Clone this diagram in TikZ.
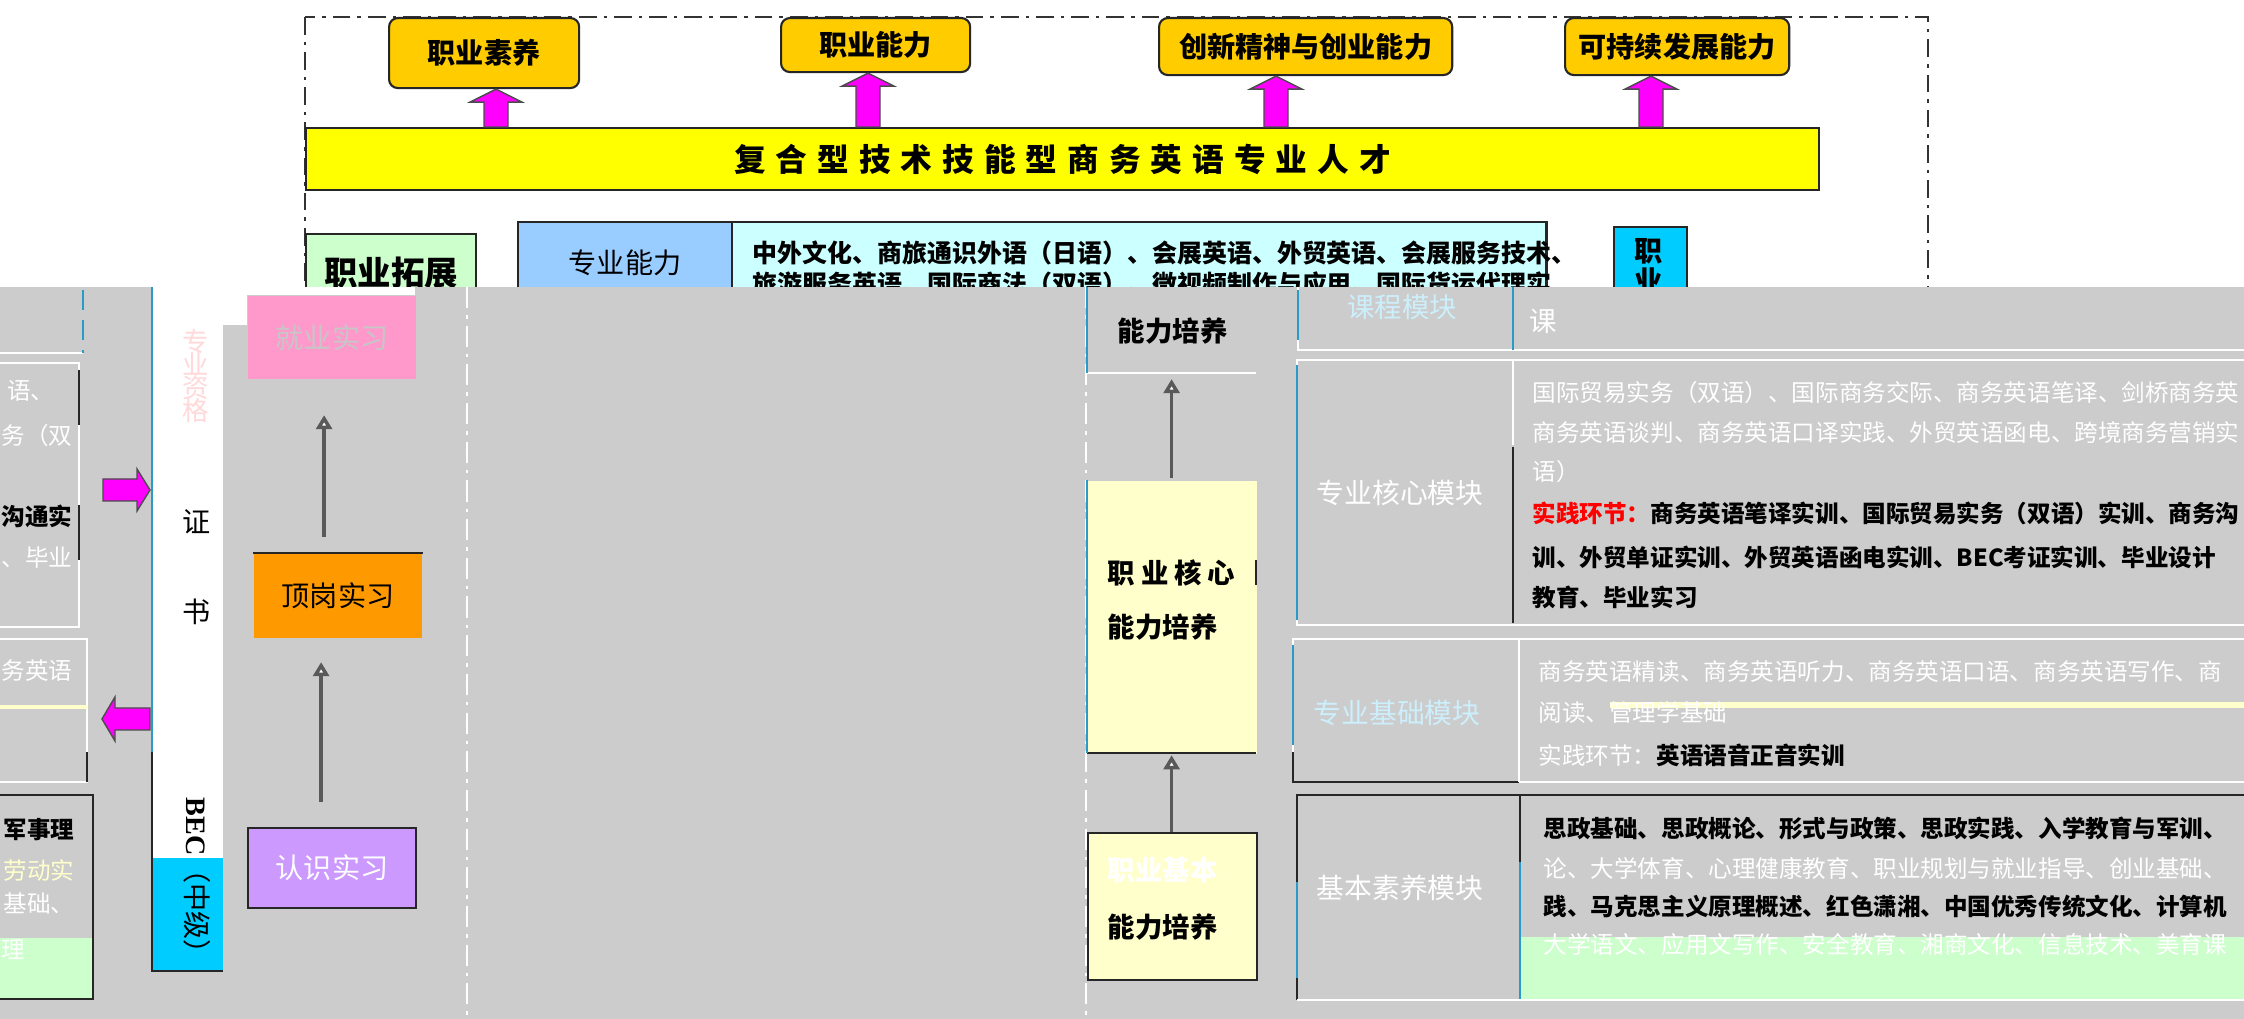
\documentclass[tikz,border=0pt]{standalone}
\usepackage{fontspec}
\setmainfont{Noto Sans CJK SC}
\newfontfamily\enserif{Liberation Serif}
\usetikzlibrary{calc,arrows.meta}
\definecolor{cgold}{HTML}{FFCC00}
\definecolor{cmag}{HTML}{FF00FF}
\definecolor{cyel}{HTML}{FFFF00}
\definecolor{cgreen}{HTML}{CCFFCC}
\definecolor{cblue}{HTML}{99CCFF}
\definecolor{clcyan}{HTML}{CCFFFF}
\definecolor{ccyan}{HTML}{00CCFF}
\definecolor{cgray}{HTML}{CCCCCC}
\definecolor{cpink}{HTML}{FF99CC}
\definecolor{corange}{HTML}{FF9900}
\definecolor{cpurple}{HTML}{CC99FF}
\definecolor{clyel}{HTML}{FFFFCC}
\definecolor{cdash}{HTML}{333333}
\newcommand\fs[1]{\fontsize{#1}{#1}\selectfont}
\tikzset{
 bx/.style={draw=black!85, line width=0.6pt, inner sep=0pt, anchor=north west},
 tgt/.style={bx, fill=cgold, rounded corners=2.5pt, font=\fs{8}\bfseries},
 marr/.style={fill=cmag, draw=black!70, line width=0.4pt},
 lbl/.style={inner sep=0pt, font=\fs{6.7}},
 ln/.style={lbl, anchor=west},
 lnb/.style={lbl, anchor=west, font=\fs{6.7}\bfseries},
 wln/.style={draw=white, line width=0.7pt},
 kln/.style={draw=black!85, line width=0.8pt},
 cln/.style={draw=cyan!80!black, line width=0.6pt},
 wdd/.style={draw=white, line width=0.6pt, dash pattern=on 6pt off 2pt on 1pt off 2pt},
 frm/.style={draw=cdash, line width=0.5pt, dash pattern=on 5pt off 2pt on 1pt off 2pt},
 garr/.style={draw=gray!70!black, line width=1pt, -{Triangle[fill=white, length=4pt, width=4.5pt]}},
}
\newcommand\blkup[4]{%
 \path (#1,0 |- #2.north) coordinate (#4b) (#1,0 |- #3.south) coordinate (#4t);
 \filldraw[marr] ($(#4b)+(-12,0)$) -- ($(#4t)+(-12,13)$) -- ($(#4t)+(-26,13)$) -- (#4t)
   -- ($(#4t)+(26,13)$) -- ($(#4t)+(12,13)$) -- ($(#4b)+(12,0)$) -- cycle;}
\begin{document}
\begin{tikzpicture}[x=0.01cm,y=-0.01cm]
\useasboundingbox (0,0) rectangle (2244,1019);
\fill[white] (0,0) rectangle (2244,1019);
% ---------- top part ----------
\draw[frm] (305,17) rectangle (1928,1019);
\node[tgt, minimum width=1.90cm, minimum height=0.70cm] (t1) at (388,17) {职业素养};
\node[tgt, minimum width=1.89cm, minimum height=0.54cm] (t2) at (780,17) {职业能力};
\node[tgt, minimum width=2.93cm, minimum height=0.57cm] (t3) at (1158,17) {创新精神与创业能力};
\node[tgt, minimum width=2.24cm, minimum height=0.57cm] (t4) at (1564,17) {可持续发展能力};
\node[bx, fill=cyel, minimum width=15.12cm, minimum height=0.62cm, font=\fs{9}\bfseries] (ban) at (305,127)
 {复\hskip0.1cm 合\hskip0.1cm 型\hskip0.1cm 技\hskip0.1cm 术\hskip0.1cm 技\hskip0.1cm 能\hskip0.1cm 型\hskip0.1cm 商\hskip0.1cm 务\hskip0.1cm 英\hskip0.1cm 语\hskip0.1cm 专\hskip0.1cm 业\hskip0.1cm 人\hskip0.1cm 才};
\blkup{496}{ban}{t1}{ua}
\blkup{868}{ban}{t2}{ub}
\blkup{1276}{ban}{t3}{uc}
\blkup{1651}{ban}{t4}{ud}
\node[bx, fill=cgreen, minimum width=1.70cm, minimum height=0.78cm, font=\fs{9.5}\bfseries] (zt) at (305,233) {职业拓展};
\node[bx, fill=cblue, minimum width=2.14cm, minimum height=0.82cm, font=\fs{8}] (zn) at (517,221) {专业能力};
\node[bx, fill=clcyan, minimum width=8.14cm, minimum height=1.0cm] (zc) at (731,221) {};
\node[lnb, font=\fs{7.1}\bfseries] (zc1) at (752,253) {中外文化、商旅通识外语（日语）、会展英语、外贸英语、会展服务技术、};
\node[lnb, font=\fs{7.1}\bfseries] (zc2) at (752,284) {旅游服务英语、国际商法（双语）、微视频制作与应用、国际货运代理实};
\node[bx, fill=ccyan, minimum width=0.73cm, minimum height=1.0cm] (zy) at (1613,226) {};
\node[lbl, font=\fs{8}\bfseries] (zy1) at (1649,251) {职};
\node[lbl, font=\fs{8}\bfseries] (zy2) at (1649,280) {业};
% ---------- grey glitch area ----------
\fill[cgray] (0,287) rectangle (2244,1019);
\fill[white] (152,287) rectangle (223,858);
\fill[white] (223,287) rectangle (247,325);
\fill[white] (247,287) rectangle (415,295);
\fill[ccyan] (152,858) rectangle (223,971);
\draw[cln] (152,287) -- (152,752);
\draw[kln] (152,752) -- (152,971) -- (223,971);
\draw[wdd] (467,287) -- (467,1019);
\draw[wdd] (1086,287) -- (1086,1019);
% left fragments
\draw[wln] (0,353) -- (83,353);
\draw[cln, dash pattern=on 0.2cm off 0.1cm] (83,290) -- (83,353);
\draw[wln] (-5,363) rectangle (79,627);
\draw[kln] (79,370) -- (79,425) (79,505) -- (79,560);
\node[lbl, anchor=east, text=white] (l2a) at (55,391) {语、};
\node[ln, text=white] (l2b) at (1,436) {务（双};
\node[lnb] (l2c) at (1,516) {沟通实};
\node[ln, text=white] (l2d) at (1,558) {、毕业};
\draw[wln] (-5,639) rectangle (87,782);
\draw[kln] (87,752) -- (87,782);
\node[ln, text=white] (l3a) at (1,671) {务英语};
\draw[draw=clyel, line width=1.2pt] (0,707) -- (87,707);
\fill[cgreen] (0,938) rectangle (93,999);
\draw[kln] (-5,795) rectangle (93,999);
\node[lnb] (l4a) at (3,830) {军事理};
\node[ln, text=clyel] (l4b) at (3,870) {劳动实};
\node[ln, text=white] (l4c) at (3,903) {基础、};
\node[ln, text=white] (l4d) at (1,950) {理};
% magenta side arrows
\coordinate (pa1) at (103,490); \coordinate (pa2) at (150,490);
\filldraw[marr] ($(pa1)+(0,-11)$) -- ($(pa2)+(-13,-11)$) -- ($(pa2)+(-13,-21)$) -- (pa2)
  -- ($(pa2)+(-13,21)$) -- ($(pa2)+(-13,11)$) -- ($(pa1)+(0,11)$) -- cycle;
\coordinate (pb1) at (150,719); \coordinate (pb2) at (102,719);
\filldraw[marr] ($(pb1)+(0,-11)$) -- ($(pb2)+(13,-11)$) -- ($(pb2)+(13,-22)$) -- (pb2)
  -- ($(pb2)+(13,22)$) -- ($(pb2)+(13,11)$) -- ($(pb1)+(0,11)$) -- cycle;
% white column text
\node[lbl, font=\fs{7.5}, text=pink!60, align=center] (bc1) at (196,376) {专\\[-1pt]业\\[-1pt]资\\[-1pt]格};
\node[lbl, font=\fs{8}, text=black] (bc2) at (197,522) {证};
\node[lbl, font=\fs{8}, text=black] (bc3) at (197,612) {书};
\node[lbl, font=\fs{8}, rotate=-90, anchor=west] (bc4) at (197,797) {{\enserif\bfseries BEC}（中级）};
% practice chain
\node[bx, draw=none, fill=cpink, minimum width=1.68cm, minimum height=0.83cm, font=\fs{8}, text=gray!45] (jy) at (247,295) {就业实习};
\node[bx, draw=none, fill=corange, minimum width=1.68cm, minimum height=0.84cm, font=\fs{8}] (dg) at (253,553) {顶岗实习};
\draw[kln] (dg.north west) -- (dg.north east);
\node[bx, fill=cpurple, minimum width=1.68cm, minimum height=0.80cm, font=\fs{8}, text=white] (rs) at (247,827) {认识实习};
\draw[garr] ($(rs.north)+(-11,-25)$) -- ($(dg.south)+(-17,23)$);
\draw[garr] ($(dg.north)+(-14,-16)$) -- ($(jy.south)+(-8,35)$);
% ability column
\node[bx, draw=none, minimum width=1.69cm, minimum height=0.86cm, font=\fs{7.8}\bfseries] (nl) at (1087,287) {能力培养};
\draw[wln] (1087,373) -- (1256,373);
\draw[cln] (1087,287) -- (1087,373);
\node[bx, draw=none, fill=clyel, minimum width=1.69cm, minimum height=2.73cm] (hx) at (1087,480) {};
\draw[kln] (1087,753) -- (1256,753) (1256,560) -- (1256,585);
\draw[cln] (1087,480) -- (1087,753);
\node[ln, font=\fs{7.8}\bfseries] (hx1) at (1107,573) {职\hskip0.06cm 业\hskip0.06cm 核\hskip0.06cm 心};
\node[ln, font=\fs{7.8}\bfseries] (hx2) at (1107,627) {能力培养};
\node[bx, fill=clyel, minimum width=1.69cm, minimum height=1.47cm] (jb) at (1087,832) {};
\node[ln, font=\fs{7.8}\bfseries, text=white] (jb1) at (1107,870) {职业基本};
\node[ln, font=\fs{7.8}\bfseries] (jb2) at (1107,927) {能力培养};
\draw[garr] ($(hx.north)+(-1,-2)$) -- ($(nl.south)+(-1,4)$);
\draw[garr] ($(jb.north)+(-1,0)$) -- ($(hx.south)+(-1,0)$);
% table header
\draw[wln] (1298,287) -- (1298,350) -- (2260,350);
\draw[cln] (1513,287) -- (1513,350) (1298,290) -- (1298,340);
\node[lbl, font=\fs{7.8}, text=cyan!20!white] (hd1) at (1402,307) {课程模块};
\node[lbl, font=\fs{7.8}, text=white] (hd2) at (1543,321) {课};
% row 1
\draw[wln] (2260,360) -- (1297,360) -- (1297,625) -- (2260,625);
\draw[cln] (1297,365) -- (1297,620);
\draw[wln] (1513,360) -- (1513,445);
\draw[kln] (1513,447) -- (1513,623);
\node[lbl, font=\fs{7.9}, text=white] (m1) at (1400,493) {专业核心模块};
\node[ln, text=white] (r1a) at (1532,393) {国际贸易实务（双语）、国际商务交际、商务英语笔译、剑桥商务英};
\node[ln, text=white] (r1b) at (1532,433) {商务英语谈判、商务英语口译实践、外贸英语函电、跨境商务营销实};
\node[ln, text=white] (r1c) at (1532,472) {语）};
\node[lnb] (r1d) at (1532,513) {{\color{red}实践环节：}商务英语笔译实训、国际贸易实务（双语）实训、商务沟};
\node[lnb] (r1e) at (1532,557) {训、外贸单证实训、外贸英语函电实训、BEC考证实训、毕业设计};
\node[lnb] (r1f) at (1532,597) {教育、毕业实习};
% row 2
\draw[wln] (2260,639) -- (1293,639) -- (1293,752);
\draw[cln] (1293,645) -- (1293,745);
\draw[kln] (1293,752) -- (1293,782) -- (1519,782);
\draw[wln] (1519,782) -- (2260,782) (1519,639) -- (1519,782);
\node[lbl, font=\fs{7.9}, text=cyan!20!white] (m2) at (1397,713) {专业基础模块};
\draw[draw=clyel, line width=1.5pt] (1610,705) -- (2260,705);
\node[ln, text=white] (r2a) at (1538,672) {商务英语精读、商务英语听力、商务英语口语、商务英语写作、商};
\node[ln, text=white] (r2b) at (1538,713) {阅读、管理学基础};
\node[lnb] (r2c) at (1538,755) {{\color{white}\mdseries 实践环节：}英语语音正音实训};
% row 3
\fill[cgreen] (1520,937) rectangle (2260,1000);
\draw[kln] (1297,1000) -- (1297,795) -- (2260,795);
\draw[kln] (1520,795) -- (1520,862);
\draw[cln] (1297,882) -- (1297,978) (1520,862) -- (1520,1000);
\draw[wln] (1297,1000) -- (2260,1000);
\node[lbl, font=\fs{7.9}, text=white] (m3) at (1400,888) {基本素养模块};
\node[lnb] (r3a) at (1543,828) {思政基础、思政概论、形式与政策、思政实践、入学教育与军训、};
\node[ln, text=white] (r3b) at (1543,868) {论、大学体育、心理健康教育、职业规划与就业指导、创业基础、};
\node[lnb] (r3c) at (1543,907) {践、马克思主义原理概述、红色潇湘、中国优秀传统文化、计算机};
\node[ln, text=white] (r3d) at (1543,945) {大学语文、应用文写作、安全教育、湘商文化、信息技术、美育课};
\end{tikzpicture}
\end{document}
